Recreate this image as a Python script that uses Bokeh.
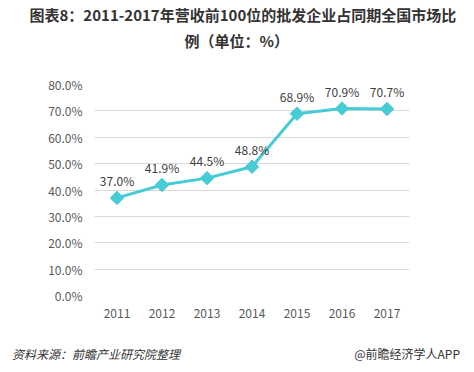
import math
from bokeh.plotting import figure
from bokeh.layouts import column
from bokeh.models import ColumnDataSource, PrintfTickFormatter, FixedTicker, Range1d, Title, Div
from bokeh.core.properties import value
from bokeh.embed import file_html
from bokeh.resources import INLINE

years = ["2011", "2012", "2013", "2014", "2015", "2016", "2017"]
share = [37.0, 41.9, 44.5, 48.8, 68.9, 70.9, 70.7]
labels = ["37.0%", "41.9%", "44.5%", "48.8%", "68.9%", "70.9%", "70.7%"]
y_ticks = [0, 10, 20, 30, 40, 50, 60, 70, 80]

title_line1 = "图表8：2011-2017年营收前100位的批发企业占同期全国市场比"
title_line2 = "例（单位：%）"
source_text = "资料来源：前瞻产业研究院整理"
brand_text = "@前瞻经济学人APP"

FONT = "Noto Sans CJK SC"
W = 466
HM = 330

src = ColumnDataSource(dict(x=years, y=share, lab=labels))
p = figure(width=W, height=HM, x_range=years, y_range=Range1d(0, 80),
           output_backend="svg", toolbar_location=None,
           min_border_left=94, min_border_right=57, min_border_top=84, min_border_bottom=HM - 84 - 211)
p.outline_line_color = None

# spacer (closest to frame), then the two title lines
p.add_layout(Title(text=" ", text_font_size="1px", standoff=28), "above")
p.add_layout(Title(text=title_line2, align="left", offset=90, text_font=FONT, text_font_size="15px",
                   text_font_style="bold", text_color="#333333", standoff=6), "above")
p.add_layout(Title(text=title_line1, align="left", offset=-65, text_font=FONT, text_font_size="15px",
                   text_font_style="bold", text_color="#333333", standoff=0), "above")

p.line("x", "y", source=src, line_color="#47CBD4", line_width=3)
p.scatter("x", "y", source=src, marker="square", angle=math.pi / 4, size=9.5,
          fill_color="#47CBD4", line_color="#47CBD4")
p.text("x", "y", text="lab", source=src, y_offset=-9, text_align="center", text_baseline="bottom",
       text_font=value(FONT), text_font_size="12px", text_color="#404040")

p.yaxis.ticker = FixedTicker(ticks=y_ticks)
p.yaxis.formatter = PrintfTickFormatter(format="%.1f%%")
p.yaxis.axis_line_color = None
p.yaxis.major_tick_line_color = None
p.yaxis.minor_tick_line_color = None
p.yaxis.major_tick_out = 0
p.yaxis.major_tick_in = 0
p.yaxis.major_label_text_font = FONT
p.yaxis.major_label_text_font_size = "12px"
p.yaxis.major_label_text_color = "#595959"
p.yaxis.major_label_standoff = 12

p.xaxis.axis_line_color = None
p.xaxis.major_tick_line_color = None
p.xaxis.major_tick_out = 0
p.xaxis.major_tick_in = 0
p.xaxis.major_label_text_font = FONT
p.xaxis.major_label_text_font_size = "12px"
p.xaxis.major_label_text_color = "#595959"
p.xaxis.major_label_standoff = 13

p.xgrid.grid_line_color = None
p.ygrid.grid_line_color = "#D9D9D9"
p.ygrid.grid_line_width = 1

foot = Div(
    text=(f'<div style="display:flex;justify-content:space-between;width:{W - 9}px;'
          f'padding:9px 2px 0 7px;font-family:\'{FONT}\';font-size:12px;line-height:20px;color:#333333;">'
          f'<span style="font-style:italic;">{source_text}</span><span>{brand_text}</span></div>'),
    width=W, height=36)

layout = column(p, foot, spacing=0)
open("out.html", "w").write(file_html(layout, INLINE))
